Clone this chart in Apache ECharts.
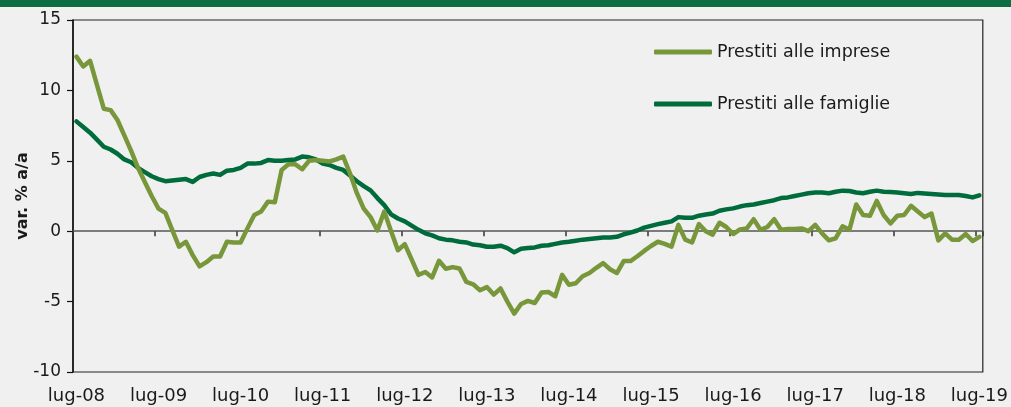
<!DOCTYPE html>
<html>
<head>
<meta charset="utf-8">
<script src="https://cdn.jsdelivr.net/npm/echarts@6/dist/echarts.min.js"></script>
<style>
	html, body { margin: 0; padding: 0; background: #f0f0f0; }
	#chart { width: 1011px; height: 407px; }
</style>
</head>
<body>
<div id="chart"></div>
<script>
// mesi (categorie): lug-08 ... lug-19
var monthNames = ['lug', 'ago', 'set', 'ott', 'nov', 'dic', 'gen', 'feb', 'mar', 'apr', 'mag', 'giu'];
var firstYear = 8;
var monthCount = 133;

var yTicks = [-10, -5, 0, 5, 10, 15];

// var. % a/a, prestiti alle imprese
var imprese = [
	12.4, 11.7, 12.1, 10.4, 8.7, 8.6, 7.9, 6.8, 5.7, 4.5,
	3.5, 2.5, 1.6, 1.3, 0.1, -1.1, -0.75, -1.7, -2.5, -2.2,
	-1.8, -1.8, -0.75, -0.8, -0.8, 0.2, 1.15, 1.4, 2.1, 2.05,
	4.35, 4.75, 4.75, 4.4, 5.0, 5.05, 5.0, 4.95, 5.1, 5.3,
	4.1, 2.7, 1.6, 1.0, 0.05, 1.4, 0.0, -1.35, -0.92, -2.0,
	-3.1, -2.9, -3.28, -2.1, -2.67, -2.55, -2.65, -3.6, -3.77, -4.2,
	-3.97, -4.5, -4.07, -5.0, -5.85, -5.17, -4.95, -5.1, -4.35, -4.32,
	-4.62, -3.1, -3.8, -3.7, -3.2, -2.97, -2.6, -2.27, -2.7, -2.97,
	-2.12, -2.12, -1.78, -1.4, -1.05, -0.75, -0.9, -1.1, 0.45, -0.6,
	-0.8, 0.5, 0.0, -0.25, 0.6, 0.3, -0.2, 0.13, 0.2, 0.85,
	0.1, 0.3, 0.85, 0.1, 0.15, 0.15, 0.2, 0.0, 0.45, -0.15,
	-0.65, -0.5, 0.35, 0.1, 1.9, 1.15, 1.1, 2.15, 1.15, 0.55,
	1.1, 1.15, 1.8, 1.4, 1.0, 1.25, -0.65, -0.15, -0.6, -0.6,
	-0.2, -0.7, -0.4
];

// var. % a/a, prestiti alle famiglie
var famiglie = [
	7.8, 7.4, 7.0, 6.5, 6.0, 5.8, 5.5, 5.1, 4.9, 4.5,
	4.2, 3.9, 3.7, 3.55, 3.6, 3.65, 3.7, 3.5, 3.85, 4.0,
	4.1, 4.0, 4.3, 4.35, 4.5, 4.8, 4.8, 4.85, 5.05, 5.0,
	5.0, 5.05, 5.1, 5.3, 5.25, 5.1, 4.8, 4.7, 4.5, 4.35,
	3.95, 3.55, 3.2, 2.9, 2.35, 1.85, 1.2, 0.9, 0.7, 0.4,
	0.1, -0.15, -0.3, -0.5, -0.6, -0.65, -0.75, -0.8, -0.95, -1.0,
	-1.1, -1.1, -1.03, -1.2, -1.5, -1.25, -1.2, -1.15, -1.03, -1.0,
	-0.9, -0.8, -0.75, -0.68, -0.6, -0.55, -0.5, -0.44, -0.45, -0.4,
	-0.22, -0.1, 0.05, 0.25, 0.38, 0.5, 0.6, 0.7, 1.0, 0.95,
	0.95, 1.1, 1.18, 1.25, 1.45, 1.55, 1.62, 1.75, 1.85, 1.9,
	2.0, 2.1, 2.2, 2.35, 2.4, 2.5, 2.6, 2.7, 2.75, 2.75,
	2.7, 2.8, 2.88, 2.85, 2.75, 2.7, 2.8, 2.88, 2.8, 2.78,
	2.75, 2.7, 2.64, 2.72, 2.68, 2.64, 2.6, 2.57, 2.57, 2.57,
	2.5, 2.4, 2.55
];

var categories = [];
for (var i = 0; i < monthCount; i++) {
	var yy = firstYear + Math.floor((i + 6) / 12);
	categories.push(monthNames[i % 12] + '-' + (yy < 10 ? '0' + yy : yy));
}

var textColor = '#1a1a1a';
var coloreImprese = '#77973a';
var coloreFamiglie = '#006b3b';
var fontName = 'DejaVu Sans';

var chart = echarts.init(document.getElementById('chart'));
var option = {
	backgroundColor: '#f0f0f0',
	animation: false,
	textStyle: { fontFamily: fontName },
	graphic: [{
		type: 'rect',
		left: 0,
		top: 0,
		shape: { width: 1011, height: 7 },
		style: { fill: '#0b6e43' }
	}],
	grid: {
		left: 73,
		right: 27,
		top: 20,
		bottom: 35,
		show: true,
		borderColor: '#222',
		borderWidth: 1.2,
		backgroundColor: 'transparent'
	},
	legend: {
		orient: 'vertical',
		left: 649,
		top: 37,
		icon: 'roundRect',
		itemWidth: 58,
		itemHeight: 5,
		itemGap: 32,
		data: ['Prestiti alle imprese', 'Prestiti alle famiglie'],
		textStyle: { fontSize: 17.5, lineHeight: 20, color: textColor, fontFamily: fontName }
	},
	xAxis: [{
		type: 'category',
		data: categories,
		boundaryGap: true,
		axisLine: { onZero: true, lineStyle: { color: '#555', width: 1.5 } },
		axisTick: { show: true, interval: 11, length: 5, lineStyle: { color: '#333', width: 1.5 } },
		axisLabel: { show: false },
		splitLine: { show: false }
	}, {
		type: 'category',
		data: categories,
		boundaryGap: true,
		position: 'bottom',
		axisLine: { show: false, onZero: false },
		axisTick: { show: false },
		axisLabel: { interval: 11, margin: 15, fontSize: 18, color: textColor, fontFamily: fontName },
		splitLine: { show: false }
	}],
	yAxis: {
		type: 'value',
		min: yTicks[0],
		max: yTicks[yTicks.length - 1],
		interval: 5,
		name: 'var. % a/a',
		nameLocation: 'middle',
		nameGap: 42,
		nameMoveOverlap: false,
		nameTextStyle: { fontSize: 16, fontWeight: 'bold', color: textColor, fontFamily: fontName },
		axisLine: { show: true, lineStyle: { color: '#111', width: 1.5 } },
		axisTick: { show: true, length: 6, lineStyle: { color: '#111', width: 1.2 } },
		axisLabel: { margin: 12, fontSize: 17, color: textColor, fontFamily: fontName },
		splitLine: { show: false }
	},
	series: [{
		name: 'Prestiti alle famiglie',
		type: 'line',
		xAxisIndex: 0,
		data: famiglie,
		symbol: 'none',
		itemStyle: { color: coloreFamiglie },
		lineStyle: { color: coloreFamiglie, width: 4.5, join: 'round', cap: 'round' }
	}, {
		name: 'Prestiti alle imprese',
		type: 'line',
		xAxisIndex: 0,
		data: imprese,
		symbol: 'none',
		itemStyle: { color: coloreImprese },
		lineStyle: { color: coloreImprese, width: 4.5, join: 'round', cap: 'round' }
	}]
};
chart.setOption(option);
</script>
</body>
</html>
